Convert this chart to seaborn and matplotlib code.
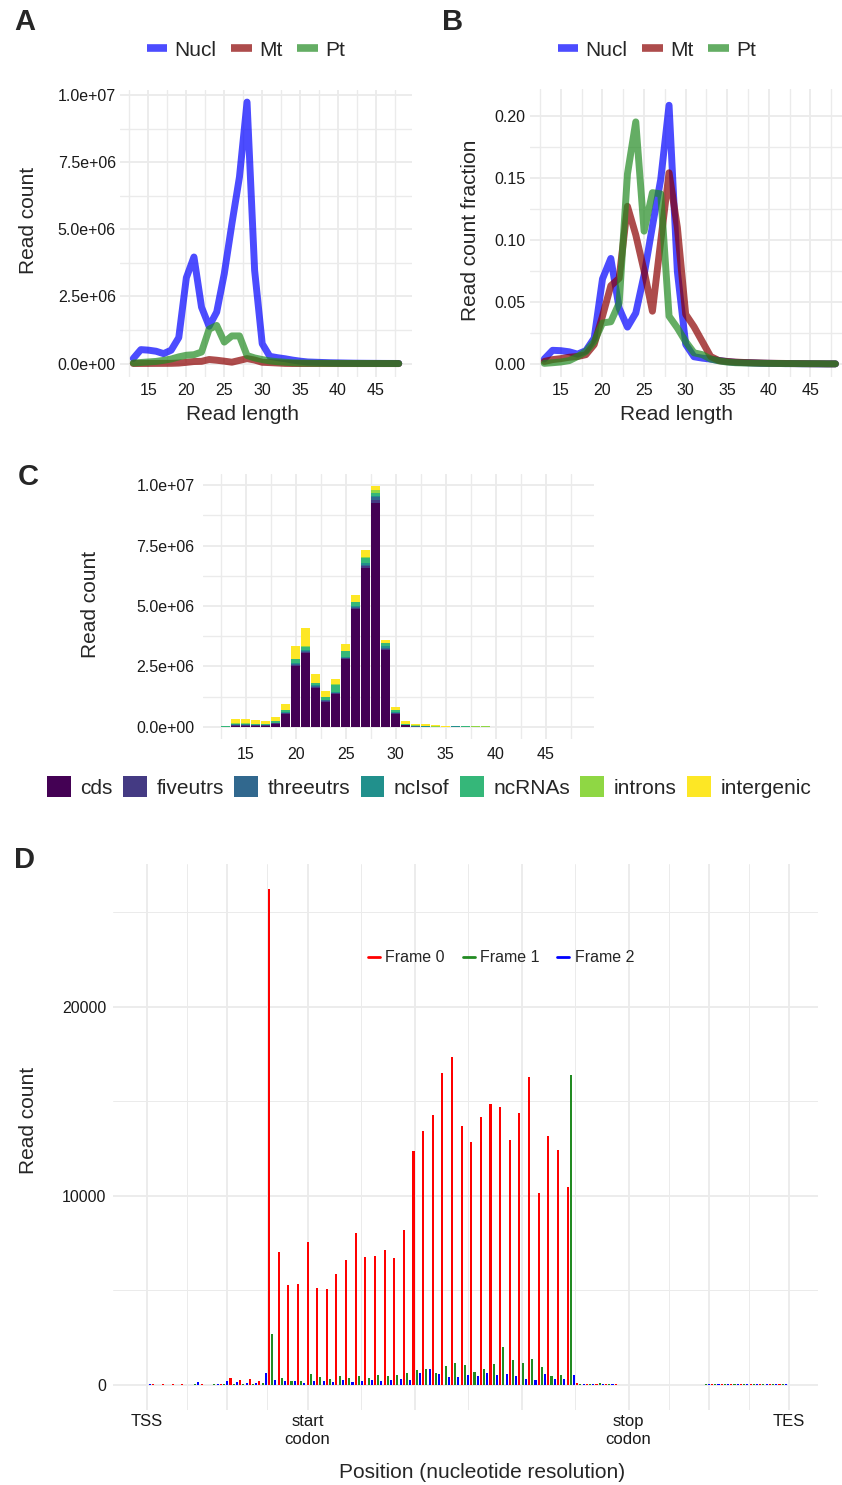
import numpy as np
import pandas as pd
import matplotlib
matplotlib.use("Agg")
import matplotlib.pyplot as plt
import seaborn as sns
from matplotlib.lines import Line2D
from matplotlib.patches import Patch
from matplotlib.ticker import FixedLocator, FuncFormatter

sns.set_theme(style="white")
plt.rcParams['font.family'] = ['Liberation Sans', 'DejaVu Sans']

# ---------------- data: panels A / B ----------------
read_length = list(range(13, 49))
compartments = ["Nucl", "Mt", "Pt"]
line_colors = ["#0000FF", "#8B0000", "#228B22"]

nucl_count = [0.19e6, 0.52e6, 0.50e6, 0.46e6, 0.37e6, 0.50e6, 0.97e6, 3.20e6, 3.97e6, 2.10e6,
              1.39e6, 1.92e6, 3.35e6, 5.20e6, 6.95e6, 9.74e6, 3.47e6, 0.74e6, 0.27e6, 0.22e6,
              0.18e6, 0.13e6, 0.09e6, 0.06e6, 0.05e6, 0.04e6, 0.03e6, 0.025e6, 0.02e6, 0.015e6,
              0.012e6, 0.01e6, 0.008e6, 0.006e6, 0.005e6, 0.004e6]
mt_count = [2.4e3, 4.2e3, 5.2e3, 6.5e3, 7.2e3, 9.0e3, 18.7e3, 46e3, 76e3, 83e3,
            152e3, 125e3, 90e3, 51e3, 119e3, 185e3, 132e3, 48e3, 36e3, 22e3,
            7e3, 3.2e3, 2.4e3, 1.8e3, 1.4e3, 1.2e3, 1.0e3, 0.7e3, 0.6e3, 0.5e3,
            0.4e3, 0.4e3, 0.3e3, 0.2e3, 0.1e3, 0.1e3]
pt_count = [0.02e6, 0.04e6, 0.06e6, 0.08e6, 0.12e6, 0.17e6, 0.25e6, 0.31e6, 0.33e6, 0.43e6,
            1.28e6, 1.42e6, 0.80e6, 1.03e6, 1.03e6, 0.30e6, 0.21e6, 0.15e6, 0.10e6, 0.07e6,
            0.05e6, 0.03e6, 0.02e6, 0.015e6, 0.01e6, 0.008e6, 0.006e6, 0.005e6, 0.004e6, 0.004e6,
            0.003e6, 0.003e6, 0.002e6, 0.002e6, 0.002e6, 0.001e6]

nucl_frac = [0.004, 0.011, 0.0107, 0.0098, 0.0079, 0.0107, 0.0208, 0.0685, 0.085, 0.045,
             0.0297, 0.041, 0.0717, 0.111, 0.1487, 0.2084, 0.0743, 0.0158, 0.0058, 0.0047,
             0.0039, 0.0028, 0.0019, 0.0013, 0.0011, 0.0009, 0.0006, 0.0005, 0.0004, 0.0003,
             0.0003, 0.0002, 0.0002, 0.0001, 0.0001, 0.0001]
mt_frac = [0.002, 0.0035, 0.0043, 0.0054, 0.006, 0.0075, 0.0156, 0.0385, 0.063, 0.069,
           0.127, 0.104, 0.075, 0.0425, 0.099, 0.154, 0.11, 0.04, 0.030, 0.018,
           0.006, 0.0027, 0.002, 0.0015, 0.0012, 0.001, 0.0008, 0.0006, 0.0005, 0.0004,
           0.0003, 0.0003, 0.0002, 0.0002, 0.0001, 0.0001]
pt_frac = [0.0005, 0.001, 0.0016, 0.0027, 0.006, 0.010, 0.018, 0.033, 0.034, 0.049,
           0.153, 0.195, 0.107, 0.138, 0.137, 0.0385, 0.029, 0.018, 0.009, 0.0075,
           0.004, 0.0025, 0.0015, 0.001, 0.0008, 0.0006, 0.0005, 0.0004, 0.0004, 0.0003,
           0.0003, 0.0002, 0.0002, 0.0002, 0.0001, 0.0001]

# ---------------- data: panel C (Nucl reads by feature) ----------------
categories = ["cds", "fiveutrs", "threeutrs", "ncIsof", "ncRNAs", "introns", "intergenic"]
cat_colors = ["#440154", "#443A83", "#31688E", "#21908C", "#35B779", "#8FD744", "#FDE725"]
cds = [0.005, 0.055, 0.055, 0.05, 0.05, 0.14, 0.55, 2.51, 3.04, 1.60, 1.02, 1.35, 2.79, 4.87, 6.57, 9.26,
       3.17, 0.54, 0.07, 0.01, 0.005, 0.003, 0.002, 0.01, 0.008, 0.006, 0.004, 0, 0, 0, 0, 0, 0, 0, 0, 0]
fiveutrs = [0.001, 0.015, 0.015, 0.012, 0.01, 0.01, 0.02, 0.06, 0.06, 0.05, 0.04, 0.04, 0.04, 0.05, 0.08, 0.14,
            0.06, 0.02, 0.005, 0.005, 0.002, 0.002, 0.001, 0.004, 0.004, 0.004, 0.003, 0, 0, 0, 0, 0, 0, 0, 0, 0]
threeutrs = [0.001, 0.015, 0.015, 0.012, 0.01, 0.01, 0.02, 0.05, 0.05, 0.04, 0.04, 0.03, 0.04, 0.04, 0.06, 0.10,
             0.05, 0.02, 0.01, 0.02, 0.005, 0.003, 0.002, 0.002, 0.002, 0.003, 0.003, 0, 0, 0, 0, 0, 0, 0, 0, 0]
ncIsof = [0.002, 0.02, 0.02, 0.015, 0.015, 0.02, 0.02, 0.04, 0.04, 0.03, 0.03, 0.03, 0.03, 0.03, 0.05, 0.07,
          0.05, 0.02, 0.005, 0.005, 0.005, 0.002, 0.001, 0.001, 0.001, 0.001, 0.002, 0, 0, 0, 0, 0, 0, 0, 0, 0]
ncRNAs = [0.01, 0.03, 0.035, 0.03, 0.03, 0.05, 0.07, 0.14, 0.12, 0.09, 0.10, 0.30, 0.24, 0.16, 0.23, 0.12,
          0.13, 0.09, 0.03, 0.01, 0.01, 0.005, 0.003, 0.002, 0.002, 0.002, 0.004, 0.002, 0.002, 0.002, 0.002,
          0.002, 0.002, 0.002, 0.002, 0.002]
introns = [0.015, 0.01, 0.01, 0.01, 0.01, 0.01, 0.01, 0.02, 0.02, 0.02, 0.02, 0.03, 0.02, 0.02, 0.04, 0.10,
           0.02, 0.01, 0.01, 0.01, 0.02, 0.01, 0.005, 0.001, 0.001, 0.001, 0.002, 0.01, 0.01, 0.01, 0.01,
           0.01, 0.01, 0.01, 0.01, 0.01]
intergenic = [0.02, 0.19, 0.18, 0.16, 0.13, 0.17, 0.27, 0.52, 0.75, 0.35, 0.23, 0.22, 0.26, 0.28, 0.28, 0.17,
              0.11, 0.11, 0.10, 0.08, 0.06, 0.045, 0.02, 0.012, 0.012, 0.012, 0.01, 0, 0, 0, 0, 0, 0, 0, 0, 0]

# ---------------- data: panel D (metaprofile, frames) ----------------
frame_labels = ["Frame 0", "Frame 1", "Frame 2"]
frame_colors = ["#FF0000", "#228B22", "#0000FF"]
pos_frame0 = list(range(2, 198, 3))
pos_frame1 = list(range(0, 199, 3))
pos_frame2 = list(range(1, 200, 3))
count_frame0 = [60, 40, 30, 35, 20, 40, 20, 30, 350, 280, 335, 230,
                26240, 7025, 5314, 5350, 7552, 5114, 5059, 5878, 6606, 8025, 6788, 6843, 7152, 6715, 8222,
                12359, 13451, 14278, 16514, 17324, 13715, 12852, 14155, 14877, 14718, 12958, 14401, 16303,
                10141, 13169, 12412, 10458,
                90, 45, 40, 35, 30, 25,
                25, 25, 22, 22, 20, 20, 20, 20,
                55, 55, 55, 50, 55, 50, 55, 50]
count_frame1 = [20, 15, 15, 15, 20, 30, 25, 30, 30, 40, 60, 40, 100,
                2693, 382, 237, 190, 564, 400, 309, 455, 346, 491, 382, 528, 473, 528, 637, 800, 855, 655,
                1000, 1146, 1037, 692, 827, 1091, 2007, 1320, 1162, 1373, 951, 458, 528, 16373,
                40, 35, 80, 30, 25,
                25, 22, 22, 20, 20, 20, 20, 20,
                40,
                55, 55, 50, 55, 55, 50, 55, 50]
count_frame2 = [60, 10, 10, 10, 20, 140, 25, 30, 210, 176, 90, 90, 616,
                273, 200, 200, 91, 200, 218, 146, 255, 182, 200, 273, 218, 273, 291, 273, 619, 855, 582,
                437, 437, 528, 491, 616, 528, 563, 458, 334, 282, 581, 334, 317, 528,
                40, 35, 50, 30, 25,
                25, 22, 22, 20, 20, 20, 20, 20,
                50,
                55, 50, 55, 50, 55, 50, 55, 50]
d_breaks = [0, 25, 50, 83.33, 116.67, 150, 175, 200]
d_labels = ["TSS", "", "start\ncodon", "", "", "stop\ncodon", "", "TES"]
d_minor = [12.5, 37.5, 66.67, 100, 133.33, 162.5, 187.5]

# ---------------- figure ----------------
W, H = 842, 1485
fig = plt.figure(figsize=(W / 100, H / 100), dpi=100)
GRID = "#EBEBEB"


def ax_px(x0, y0, x1, y1):
    return fig.add_axes([x0 / W, 1 - y1 / H, (x1 - x0) / W, (y1 - y0) / H])


def style(ax, xmaj, xmin, ymaj, ymin, lwmaj=1.3, lwmin=1.0, tick_size=11.5):
    ax.set_facecolor("white")
    for s in ax.spines.values():
        s.set_visible(False)
    ax.xaxis.set_major_locator(FixedLocator(xmaj))
    ax.xaxis.set_minor_locator(FixedLocator(xmin))
    ax.yaxis.set_major_locator(FixedLocator(ymaj))
    ax.yaxis.set_minor_locator(FixedLocator(ymin))
    ax.grid(which="major", color=GRID, lw=lwmaj)
    ax.grid(which="minor", color=GRID, lw=lwmin)
    ax.tick_params(which="both", length=0, labelsize=tick_size, labelcolor="#1a1a1a")
    ax.tick_params(axis="x", pad=4)
    ax.tick_params(axis="y", pad=3)
    ax.set_axisbelow(True)
    ax.set_xlabel("")
    ax.set_ylabel("")


def ftext(x, y, s, **kw):
    fig.text(x / W, 1 - y / H, s, ha=kw.pop("ha", "center"), va=kw.pop("va", "center"), **kw)


sci = FuncFormatter(lambda v, p: f"{v:.1e}")
len_major = [15, 20, 25, 30, 35, 40, 45]
len_minor = [12.5, 17.5, 22.5, 27.5, 32.5, 37.5, 42.5, 47.5]

# ---- Panel A ----
axA = ax_px(120, 90, 412, 377)
dfA = pd.DataFrame({"length": read_length * 3,
                    "count": nucl_count + mt_count + pt_count,
                    "compartment": np.repeat(compartments, len(read_length))})
sns.lineplot(data=dfA, x="length", y="count", hue="compartment", hue_order=compartments,
             palette=dict(zip(compartments, line_colors)), alpha=0.7, linewidth=5.0,
             solid_joinstyle="round", ax=axA, legend=False)
style(axA, len_major, len_minor, [0, 2.5e6, 5e6, 7.5e6, 1e7], [1.25e6, 3.75e6, 6.25e6, 8.75e6])
axA.yaxis.set_major_formatter(sci)
axA.set_xlim(11.25, 49.75)
axA.set_ylim(-0.5e6, 10.19e6)

# ---- Panel B ----
axB = ax_px(529.7, 89, 850, 377)
dfB = pd.DataFrame({"length": read_length * 3,
                    "fraction": nucl_frac + mt_frac + pt_frac,
                    "compartment": np.repeat(compartments, len(read_length))})
sns.lineplot(data=dfB, x="length", y="fraction", hue="compartment", hue_order=compartments,
             palette=dict(zip(compartments, line_colors)), alpha=0.7, linewidth=5.0,
             solid_joinstyle="round", ax=axB, legend=False)
style(axB, len_major, len_minor, [0, 0.05, 0.10, 0.15, 0.20], [0.025, 0.075, 0.125, 0.175])
axB.yaxis.set_major_formatter(FuncFormatter(lambda v, p: f"{v:.2f}"))
axB.set_xlim(11.25, 49.75)
axB.set_ylim(-0.0105, 0.2215)

line_handles = [Line2D([0], [0], color=c, lw=5.5, alpha=0.7, solid_capstyle="butt") for c in line_colors]
for ax, cx in ((axA, 246), (axB, 657)):
    ax.legend(line_handles, compartments, loc="center", bbox_to_anchor=(cx / W, 1 - 50 / H),
              bbox_transform=fig.transFigure, ncol=3, frameon=False, fontsize=15,
              handlelength=1.0, handletextpad=0.35, columnspacing=0.7, borderpad=0)

# ---- Panel C ----
axC = ax_px(203, 474, 594, 739)
cat_values = [cds, fiveutrs, threeutrs, ncIsof, ncRNAs, introns, intergenic]
dfC = pd.DataFrame({"length": read_length * len(categories),
                    "count": np.concatenate(cat_values) * 1e6,
                    "category": np.repeat(categories, len(read_length))})
sns.histplot(data=dfC, x="length", weights="count", hue="category", hue_order=categories[::-1],
             palette=dict(zip(categories, cat_colors)), multiple="stack", discrete=True,
             shrink=0.9, alpha=1, linewidth=0, ax=axC, legend=False)
style(axC, len_major, len_minor, [0, 2.5e6, 5e6, 7.5e6, 1e7], [1.25e6, 3.75e6, 6.25e6, 8.75e6])
axC.tick_params(axis="x", pad=6)
axC.tick_params(axis="y", pad=6)
axC.yaxis.set_major_formatter(sci)
axC.set_xlim(10.75, 49.8)
axC.set_ylim(-0.5e6, 10.46e6)
fig.legend([Patch(facecolor=c, edgecolor="none") for c in cat_colors], categories,
           loc="center", bbox_to_anchor=(429 / W, 1 - 787 / H), ncol=7, frameon=False,
           fontsize=15, handlelength=1.15, handleheight=1.15, handletextpad=0.45,
           columnspacing=0.5, borderpad=0)

# ---- Panel D ----
axD = ax_px(113, 864, 818, 1410)
dfD = pd.DataFrame({"position": pos_frame0 + pos_frame1 + pos_frame2,
                    "count": count_frame0 + count_frame1 + count_frame2,
                    "frame": ["Frame 0"] * len(pos_frame0) + ["Frame 1"] * len(pos_frame1)
                             + ["Frame 2"] * len(pos_frame2)})
sns.histplot(data=dfD, x="position", weights="count", hue="frame", hue_order=frame_labels,
             palette=dict(zip(frame_labels, frame_colors)), discrete=True, shrink=0.65,
             alpha=1, linewidth=0, ax=axD, legend=False)
style(axD, d_breaks, d_minor, [0, 10000, 20000], [5000, 15000, 25000], lwmaj=1.3, lwmin=0.7)
axD.set_xticklabels(d_labels, fontsize=12, linespacing=1.2)
axD.tick_params(axis="x", pad=3)
axD.tick_params(axis="y", pad=5)
axD.set_xlim(-10.6, 209)
axD.set_ylim(-1323, 27560)
axD.legend([Line2D([0], [0], color=c, lw=2) for c in frame_colors], frame_labels,
           loc="center", bbox_to_anchor=(501 / W, 1 - 958 / H), bbox_transform=fig.transFigure,
           ncol=3, frameon=False, fontsize=11.5, handlelength=0.75, handletextpad=0.35,
           columnspacing=1.1, borderpad=0)

# ---- titles ----
ftext(28, 220, "Read count", rotation=90, fontsize=15)
ftext(242, 415, "Read length", fontsize=15)
ftext(470, 230, "Read count fraction", rotation=90, fontsize=15)
ftext(677, 415, "Read length", fontsize=15)
ftext(90, 604, "Read count", rotation=90, fontsize=15)
ftext(28, 1120, "Read count", rotation=90, fontsize=15)
ftext(482, 1473, "Position (nucleotide resolution)", fontsize=15)

for lab, x, y in (("A", 25, 22), ("B", 453, 22), ("C", 28, 477), ("D", 25, 860)):
    ftext(x, y, lab, fontsize=21, fontweight="bold")

fig.savefig("out.png", dpi=100, facecolor="white")
